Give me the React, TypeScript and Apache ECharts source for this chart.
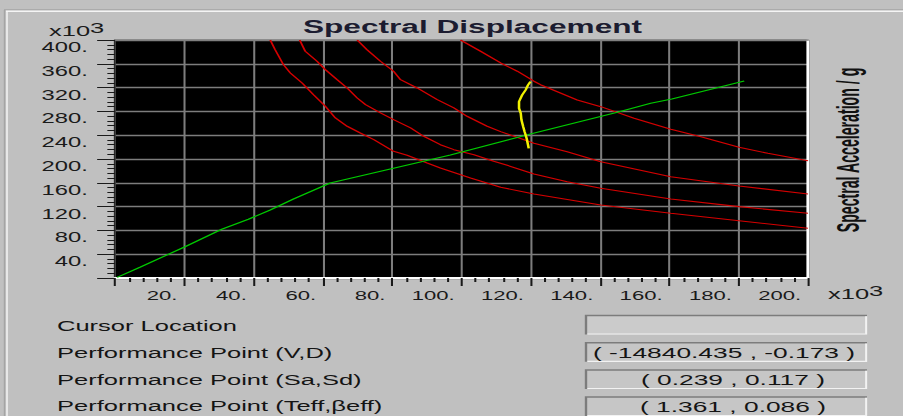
import React, { useEffect, useRef } from "react";
import * as echarts from "echarts";

// The reference picture is stretched horizontally; the chart is drawn narrow and stretched back.
const PAGE_W = 903;
const PAGE_H = 416;
const CHART_W = 531;
const STRETCH = PAGE_W / CHART_W;
const FONT = "'Liberation Sans', Arial, sans-serif";

// Axis setup (values in thousands)
const xRange = [0, 200];
const xStep = 20;
const yRange = [0, 400];
const yStep = 40;

// Capacity curve (green)
const capacitySd = [0.6, 7.2, 20.2, 30.8, 38.5, 44.8, 51.5, 62.1, 96.8, 119.9, 145.0, 154.6, 160.7, 181.6];
const capacitySa = [1, 18.0, 52.6, 81.9, 98.7, 114.3, 132.8, 159.7, 206.8, 242.1, 278.5, 293.7, 300.9, 331.2];

// Demand spectra (red)
const demand1Sd = [44.8, 46.2, 48.6, 50.6, 54.0, 57.3, 60.7, 63.6, 67.0, 70.8, 74.7, 80.4, 84.3, 90.1, 93.9, 102.6, 111.3, 120.9, 140.2, 160.4, 180.1, 200];
const demand1Sa = [400, 383.8, 358.6, 344.6, 327.8, 308.1, 288.6, 269.0, 255.0, 243.7, 232.5, 213.0, 206.3, 193.3, 184.9, 168.1, 152.5, 141.2, 122.7, 108.8, 96.3, 83.5];

const demand2Sd = [53.3, 54.9, 58.3, 60.7, 64.1, 67.0, 69.9, 72.3, 76.6, 80.4, 85.3, 89.1, 93.9, 97.8, 103.6, 109.3, 113.2, 120.9, 130.5, 140.2, 160.4, 180.1, 200];
const demand2Sa = [400, 381.1, 364.3, 350.2, 333.3, 319.4, 302.6, 291.3, 277.4, 266.1, 252.2, 238.2, 224.1, 215.7, 207.3, 196.2, 189.4, 174.8, 161.9, 150.8, 132.8, 119.9, 108.8];

const demand3Sd = [69.9, 72.7, 76.6, 80.4, 82.4, 87.2, 93.0, 97.8, 101.6, 107.4, 111.3, 120.9, 130.5, 140.2, 160.4, 180.1, 200];
const demand3Sa = [400, 383.8, 364.3, 347.5, 333.3, 319.4, 299.7, 285.8, 271.8, 255.0, 246.0, 226.4, 212.3, 195.5, 170.3, 154.7, 141.2];

const demand4Sd = [99.7, 105.5, 111.3, 116.1, 120.9, 122.8, 133.4, 140.2, 149.8, 160.4, 169.1, 180.1, 188.4, 200];
const demand4Sa = [400, 381.1, 361.4, 347.5, 330.7, 324.9, 299.2, 288.0, 268.5, 250.0, 237.5, 219.7, 209.6, 197.2];

// Performance point trace (yellow)
const perfSd = [119.9, 119.2, 118.5, 117.5, 116.6, 116.6, 117.1, 117.3, 117.8, 118.2, 118.8, 119.2, 119.4];
const perfSa = [330, 324.4, 316.0, 307.6, 296.4, 285.3, 276.9, 265.6, 254.3, 245.9, 234.8, 223.6, 218.0];

// Texts
const titleText = "Spectral Displacement";
const yAxisName = "Spectral Acceleration / g";
const unitBase = "x10";
const unitExp = "3";
const panelLabels = [
  "Cursor Location",
  "Performance Point (V,D)",
  "Performance Point (Sa,Sd)",
  "Performance Point (Teff,\u03b2eff)",
];
const panelValues = ["", "( -14840.435 , -0.173 )", "( 0.239 , 0.117 )", "( 1.361 , 0.086 )"];

const zip = (xs: number[], ys: number[]) => xs.map((x, i) => [x, ys[i]]);
const sx = (px: number) => px / STRETCH; // image px -> chart px

function unitText(x: number, y: number, raise: number) {
  return {
    type: "text",
    x,
    y,
    style: {
      text: `{b|${unitBase}}{e|${unitExp}}`,
      align: "left",
      verticalAlign: "middle",
      rich: {
        b: { font: `15px ${FONT}`, fill: "#1a1a1a", verticalAlign: "bottom" },
        e: { font: `15px ${FONT}`, fill: "#1a1a1a", verticalAlign: "bottom", padding: [0, 0, raise, 0] },
      },
    },
  };
}

function buildOption() {
  const lineSeries = (name: string, xs: number[], ys: number[], color: string, width: number, z: number) => ({
    name,
    type: "line",
    data: zip(xs, ys),
    showSymbol: false,
    symbol: "none",
    silent: true,
    clip: true,
    z,
    lineStyle: { color, width },
  });

  const gridLeft = sx(115);
  const gridRight = sx(808);

  const rowY = [325.5, 352.5, 379.5, 405.5];
  const boxTop = [315.5, 342.8, 370, 397];
  const boxL = sx(586);
  const boxR = sx(867);
  const boxH = 19;

  const graphics: any[] = [];
  // frame lines
  graphics.push({ type: "line", shape: { x1: sx(4), y1: 9.8, x2: CHART_W, y2: 9.8 }, style: { stroke: "#a4a4a4", lineWidth: 1 } });
  graphics.push({ type: "line", shape: { x1: sx(6), y1: 11.2, x2: CHART_W, y2: 11.2 }, style: { stroke: "#f4f4f4", lineWidth: 1.4 } });
  graphics.push({ type: "line", shape: { x1: sx(4.5), y1: 10, x2: sx(4.5), y2: PAGE_H }, style: { stroke: "#a4a4a4", lineWidth: 0.8 } });
  graphics.push({ type: "line", shape: { x1: sx(7), y1: 11, x2: sx(7), y2: PAGE_H }, style: { stroke: "#f4f4f4", lineWidth: 0.9 } });

  // title
  graphics.push({
    type: "text",
    x: sx(472.5),
    y: 26.5,
    style: { text: titleText, font: `bold 18.6px ${FONT}`, fill: "#1c1c30", align: "center", verticalAlign: "middle" },
  });
  // units (x10^3)
  graphics.push(unitText(sx(49), 29.3, 3.5));
  graphics.push(unitText(sx(828), 292.5, 3));
  // right axis name (narrow bold)
  graphics.push({
    type: "text",
    x: sx(848),
    y: 150,
    rotation: Math.PI / 2,
    scaleX: 0.765,
    style: { text: yAxisName, font: `bold 18.5px ${FONT}`, fill: "#111111", align: "center", verticalAlign: "middle" },
  });

  // bottom panel
  panelLabels.forEach((t, i) => {
    graphics.push({ type: "text", x: sx(57), y: rowY[i], style: { text: t, font: `15px ${FONT}`, fill: "#141414", align: "left", verticalAlign: "middle" } });
    const top = boxTop[i];
    graphics.push({ type: "rect", shape: { x: boxL, y: top, width: boxR - boxL, height: boxH }, style: { fill: i === 0 ? "#cbcbcb" : "#c6c6c6" } });
    graphics.push({
      type: "polyline",
      shape: { points: [[boxL, top + boxH], [boxL, top], [boxR, top]] },
      style: { stroke: "#7c7c7c", lineWidth: 1.4, fill: null },
    });
    graphics.push({
      type: "polyline",
      shape: { points: [[boxL + 0.8, top + boxH - 0.5], [boxR - 0.5, top + boxH - 0.5], [boxR - 0.5, top + 0.8]] },
      style: { stroke: "#f2f2f2", lineWidth: 1.2, fill: null },
    });
    if (panelValues[i]) {
      graphics.push({
        type: "text",
        x: sx(i === 1 ? 724 : 733),
        y: top + boxH / 2 + 0.5,
        style: { text: panelValues[i], font: `15.5px ${FONT}`, fill: "#141414", align: "center", verticalAlign: "middle" },
      });
    }
  });

  const tickColor = "#1a1a1a";
  const gridLineColor = "#7d7d7d";

  return {
    animation: false,
    backgroundColor: "#c0c0c0",
    grid: {
      left: gridLeft,
      top: 40,
      width: gridRight - gridLeft,
      height: 238,
      show: true,
      backgroundColor: "#000000",
      borderWidth: 0,
      containLabel: false,
    },
    xAxis: [
      {
        type: "value",
        min: xRange[0],
        max: xRange[1],
        interval: xStep,
        position: "bottom",
        axisLine: { show: true, onZero: false, lineStyle: { color: "#ffffff", width: 2 } },
        axisTick: { show: true, length: 8, lineStyle: { color: tickColor, width: 1.2 } },
        minorTick: { show: true, splitNumber: 5, length: 4, lineStyle: { color: tickColor, width: 1.2 } },
        axisLabel: {
          formatter: (v: number) => (v === 0 ? "" : `${v}.`),
          fontSize: 13,
          fontFamily: FONT,
          color: "#1a1a1a",
          align: "right",
          padding: [0, 4, 0, 0],
          margin: 11,
        },
        splitLine: { show: true, lineStyle: { color: gridLineColor, width: 1.2 } },
      },
      {
        type: "value",
        min: xRange[0],
        max: xRange[1],
        position: "top",
        axisLine: { show: true, onZero: false, lineStyle: { color: "#808080", width: 1.5 } },
        axisTick: { show: false },
        axisLabel: { show: false },
        splitLine: { show: false },
      },
    ],
    yAxis: [
      {
        type: "value",
        min: yRange[0],
        max: yRange[1],
        interval: yStep,
        position: "left",
        axisLine: { show: true, onZero: false, lineStyle: { color: "#2a2a2a", width: 1 } },
        axisTick: { show: true, length: 10.5, lineStyle: { color: tickColor, width: 1 } },
        minorTick: { show: true, splitNumber: 5, length: 4.5, lineStyle: { color: tickColor, width: 1 } },
        axisLabel: {
          formatter: (v: number) => (v === 0 ? "" : `${v}.`),
          fontSize: 14,
          fontFamily: FONT,
          color: "#1a1a1a",
          margin: 16,
          verticalAlign: "top",
        },
        splitLine: { show: true, lineStyle: { color: gridLineColor, width: 1.3 } },
      },
      {
        type: "value",
        min: yRange[0],
        max: yRange[1],
        position: "right",
        axisLine: { show: true, onZero: false, lineStyle: { color: "#ffffff", width: 1.6 } },
        axisTick: { show: false },
        axisLabel: { show: false },
        splitLine: { show: false },
      },
    ],
    series: [
      lineSeries("Demand 1", demand1Sd, demand1Sa, "#d40000", 1.1, 2),
      lineSeries("Demand 2", demand2Sd, demand2Sa, "#d40000", 1.1, 2),
      lineSeries("Demand 3", demand3Sd, demand3Sa, "#d40000", 1.1, 2),
      lineSeries("Demand 4", demand4Sd, demand4Sa, "#d40000", 1.1, 2),
      lineSeries("Capacity", capacitySd, capacitySa, "#00c800", 1.1, 3),
      lineSeries("Performance", perfSd, perfSa, "#f0f000", 1.5, 4),
    ],
    graphic: { elements: graphics },
  };
}

export default function App() {
  const ref = useRef<HTMLDivElement | null>(null);
  useEffect(() => {
    if (!ref.current) return;
    const chart = echarts.init(ref.current, null, { renderer: "svg", width: CHART_W, height: PAGE_H });
    chart.setOption(buildOption() as any);
    return () => chart.dispose();
  }, []);
  return (
    <div
      style={{
        position: "fixed",
        left: 0,
        top: 0,
        width: PAGE_W,
        height: PAGE_H,
        overflow: "hidden",
        background: "#c0c0c0",
      }}
    >
      <div
        ref={ref}
        style={{
          width: CHART_W,
          height: PAGE_H,
          transform: `scaleX(${STRETCH})`,
          transformOrigin: "0 0",
        }}
      />
    </div>
  );
}
